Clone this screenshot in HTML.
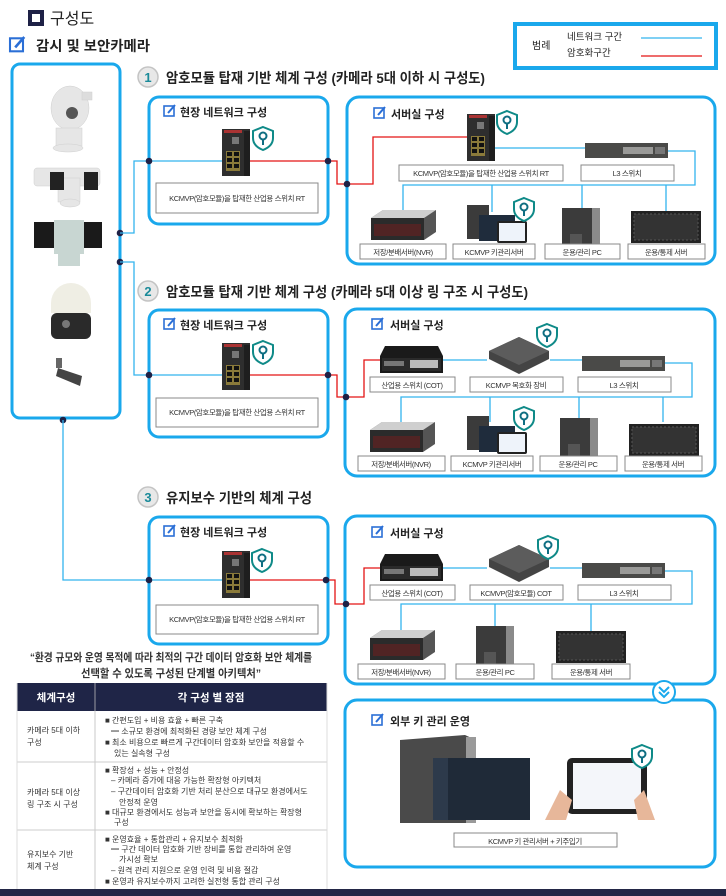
<!DOCTYPE html>
<html><head><meta charset="utf-8">
<style>
html,body{margin:0;padding:0;background:#fff;}
svg{display:block;font-family:"Liberation Sans","Noto Sans CJK KR",sans-serif;}
.h{font-weight:bold;fill:#222;}
.lb{font-size:7.5px;fill:#333;text-anchor:middle;letter-spacing:-0.4px;}
.box{fill:#fff;stroke:#888;stroke-width:1;}
.fr{fill:none;stroke:#1aa8ec;stroke-width:3;}
.bl{fill:none;stroke:#33b4ee;stroke-width:1.3;}
.rd{fill:none;stroke:#e31414;stroke-width:1.3;}
.t{font-size:8px;fill:#333;}
</style></head><body>
<svg width="726" height="896" viewBox="0 0 726 896" xmlns="http://www.w3.org/2000/svg">
<defs>
  <g id="shield"><path d="M10 0 L20 4 L20 11 Q20 19 10 23 Q0 19 0 11 L0 4 Z" fill="#fff" stroke="#0f8a88" stroke-width="2"/><circle cx="10" cy="9" r="3.5" fill="none" stroke="#0f6e82" stroke-width="2"/><rect x="9" y="12" width="2" height="6" fill="#0f6e82"/></g>
  <g id="sw"><rect x="0" y="0" width="28" height="47" fill="#2e2e2e"/><rect x="22" y="2" width="6" height="45" fill="#1e1e1e"/><rect x="2" y="1" width="18" height="3" fill="#a33"/><rect x="10" y="8" width="7" height="7" fill="#777"/><rect x="4" y="22" width="14" height="20" fill="#8a7a3a"/><rect x="5" y="23" width="5" height="4" fill="#111"/><rect x="12" y="23" width="5" height="4" fill="#111"/><rect x="5" y="29" width="5" height="4" fill="#111"/><rect x="12" y="29" width="5" height="4" fill="#111"/><rect x="5" y="35" width="5" height="4" fill="#111"/><rect x="12" y="35" width="5" height="4" fill="#111"/></g>
  <g id="l3"><rect x="0" y="0" width="83" height="15" fill="#4a4a48"/><rect x="38" y="4" width="30" height="7" fill="#9a9a98"/><rect x="70" y="4" width="10" height="7" fill="#777"/></g>
  <g id="nvr"><path d="M0 8 L12 0 L65 0 L65 22 L53 30 L0 30 Z" fill="#555"/><path d="M0 8 L12 0 L65 0 L53 8 Z" fill="#cfcfcf"/><rect x="0" y="8" width="53" height="22" fill="#2b2b2b"/><rect x="3" y="14" width="47" height="12" fill="#6a2020" opacity="0.6"/></g>
  <g id="pc"><rect x="0" y="0" width="38" height="48" fill="#3b3b3b"/><rect x="30" y="0" width="8" height="48" fill="#8a8a8a"/><rect x="8" y="26" width="12" height="12" fill="#555"/></g>
  <g id="rack"><rect x="0" y="0" width="70" height="32" fill="#222"/><rect x="3" y="3" width="64" height="26" fill="#333" stroke="#555" stroke-dasharray="2 2"/></g>
  <g id="cot"><path d="M5 0 L58 0 L63 10 L63 27 L0 27 L0 10 Z" fill="#1a1a1a"/><rect x="2" y="12" width="59" height="13" fill="#2a2a2a"/><rect x="30" y="14" width="28" height="8" fill="#bbb"/><rect x="4" y="15" width="20" height="5" fill="#777"/></g>
  <g id="dec"><path d="M0 14 L30 0 L60 14 L60 22 L30 37 L0 22 Z" fill="#444"/><path d="M0 14 L30 0 L60 14 L30 28 Z" fill="#5c5c5c"/></g>
  <g id="kms"><rect x="0" y="0" width="22" height="34" fill="#3b3b3b"/><rect x="12" y="10" width="36" height="26" fill="#1f2c3c"/><rect x="30" y="16" width="30" height="22" rx="2" fill="#222"/><rect x="32" y="18" width="26" height="18" fill="#eef3fa"/></g>
  <g id="ico"><rect x="0" y="1" width="10" height="10" fill="none" stroke="#2b6fd6" stroke-width="1.6"/><path d="M4 8 L11 0" stroke="#2b6fd6" stroke-width="2"/></g>
  <g id="dot"><circle r="3.3" fill="#1e2146"/></g>
</defs>

<rect x="28" y="10" width="16" height="16" fill="#1e2146"/><rect x="32" y="14" width="8" height="8" fill="#fff"/>
<text x="50" y="24" font-size="16" fill="#222">구성도</text>
<g transform="translate(10,37) scale(1.3)"><use href="#ico"/></g>
<text x="36" y="51" font-size="14" class="h" textLength="114" lengthAdjust="spacingAndGlyphs">감시 및 보안카메라</text>

<rect x="515" y="24" width="201" height="44" fill="#fff" stroke="#1aa8ec" stroke-width="4"/>
<text x="532" y="49" font-size="10" fill="#222">범례</text>
<text x="567" y="40" font-size="9.5" fill="#222">네트워크 구간</text>
<text x="567" y="56" font-size="9.5" fill="#222">암호화구간</text>
<line x1="641" y1="38" x2="702" y2="38" stroke="#33b4ee" stroke-width="1.2"/>
<line x1="641" y1="56" x2="702" y2="56" stroke="#e31414" stroke-width="1.2"/>

<rect x="12" y="64" width="108" height="354" rx="8" class="fr"/>
<g fill="#e6e6e6" stroke="#cfcfcf" stroke-width="0.5">
  <ellipse cx="70" cy="108" rx="19" ry="22"/><rect x="56" y="128" width="26" height="18"/><ellipse cx="68" cy="148" rx="15" ry="4"/>
  <rect x="82" y="92" width="10" height="8" fill="#ddd"/>
  <rect x="34" y="168" width="66" height="18" rx="3"/><rect x="58" y="178" width="22" height="24"/><ellipse cx="70" cy="203" rx="10" ry="4"/>
</g>
<circle cx="72" cy="113" r="6" fill="#555"/>
<rect x="50" y="172" width="14" height="18" fill="#222"/><rect x="84" y="172" width="14" height="18" fill="#222"/>
<rect x="34" y="222" width="22" height="26" fill="#1a1a1a"/><rect x="82" y="222" width="20" height="26" fill="#1a1a1a"/>
<rect x="54" y="220" width="30" height="34" fill="#c8d6d2"/><rect x="58" y="254" width="22" height="12" fill="#c8d6d2"/>
<ellipse cx="71" cy="303" rx="20" ry="20" fill="#efeee4"/><rect x="51" y="303" width="40" height="10" fill="#efeee4"/>
<rect x="51" y="313" width="40" height="26" rx="6" fill="#2a2a2a"/><circle cx="66" cy="324" r="4" fill="#777"/>
<rect x="56" y="358" width="6" height="10" fill="#666"/><path d="M58 368 L82 376 L80 386 L56 376 Z" fill="#444"/>

<use href="#dot" x="120" y="233"/><use href="#dot" x="120" y="262"/><use href="#dot" x="63" y="420"/>
<path d="M120 233 H134 V161 H149" class="bl"/>
<path d="M120 262 H134 V375 H149" class="bl"/>
<path d="M63 420 V580 H149" class="bl"/>

<!-- SECTION 1 -->
<circle cx="148" cy="77" r="10" fill="#e8e8e8" stroke="#c4c4c4" stroke-width="1.5"/>
<text x="148" y="82" font-size="13" fill="#1a8a99" text-anchor="middle" font-weight="bold">1</text>
<text x="166" y="83" font-size="14" class="h" textLength="319" lengthAdjust="spacingAndGlyphs">암호모듈 탑재 기반 체계 구성 (카메라 5대 이하 시 구성도)</text>

<rect x="149" y="97" width="179" height="127" rx="10" class="fr"/>
<use href="#ico" x="164" y="105"/>
<text x="180" y="116" font-size="11" class="h">현장 네트워크 구성</text>
<path d="M149 161 H222" class="bl"/><path d="M250 161 H328 H337 V184 H347" class="rd"/>
<use href="#sw" x="222" y="129"/><use href="#shield" x="253" y="127"/>
<rect x="156" y="183" width="162" height="30" class="box"/>
<text x="237" y="201" class="lb">KCMVP(암호모듈)을 탑재한 산업용 스위치 RT</text>
<use href="#dot" x="149" y="161"/><use href="#dot" x="328" y="161"/>

<rect x="347" y="97" width="368" height="167" rx="12" class="fr"/>
<use href="#ico" x="374" y="107"/>
<text x="391" y="118" font-size="11" class="h">서버실 구성</text>
<path d="M467 137 H373 V184 H347" class="rd"/>
<path d="M494 148 H585" class="bl"/>
<path d="M668 151 H695 V185 H403 V212 M492 185 V212 M582 185 V212 M666 185 V212" class="bl"/>
<use href="#sw" x="467" y="114"/><use href="#shield" x="497" y="111"/>
<use href="#l3" x="585" y="143"/>
<rect x="399" y="165" width="164" height="16" class="box"/><text x="481" y="176" class="lb">KCMVP(암호모듈)을 탑재한 산업용 스위치 RT</text>
<rect x="581" y="165" width="93" height="16" class="box"/><text x="627" y="176" class="lb">L3 스위치</text>
<use href="#nvr" x="371" y="210"/><use href="#kms" x="467" y="205"/><use href="#shield" x="514" y="198"/>
<use href="#pc" x="562" y="208"/><use href="#rack" x="631" y="211"/>
<rect x="360" y="244" width="86" height="15" class="box"/><text x="403" y="255" class="lb">저장/분배서버(NVR)</text>
<rect x="453" y="244" width="82" height="15" class="box"/><text x="494" y="255" class="lb">KCMVP 키관리서버</text>
<rect x="545" y="244" width="75" height="15" class="box"/><text x="582" y="255" class="lb">운용/관리 PC</text>
<rect x="628" y="244" width="77" height="15" class="box"/><text x="666" y="255" class="lb">운용/통제 서버</text>
<use href="#dot" x="347" y="184"/>

<!-- SECTION 2 -->
<circle cx="148" cy="291" r="10" fill="#e8e8e8" stroke="#c4c4c4" stroke-width="1.5"/>
<text x="148" y="296" font-size="13" fill="#1a8a99" text-anchor="middle" font-weight="bold">2</text>
<text x="166" y="297" font-size="14" class="h" textLength="362" lengthAdjust="spacingAndGlyphs">암호모듈 탑재 기반 체계 구성 (카메라 5대 이상 링 구조 시 구성도)</text>

<rect x="149" y="310" width="179" height="127" rx="10" class="fr"/>
<use href="#ico" x="164" y="318"/>
<text x="180" y="329" font-size="11" class="h">현장 네트워크 구성</text>
<path d="M149 375 H222" class="bl"/><path d="M250 375 H337 V397 H346" class="rd"/>
<use href="#sw" x="222" y="343"/><use href="#shield" x="253" y="341"/>
<rect x="156" y="398" width="162" height="29" class="box"/>
<text x="237" y="415" class="lb">KCMVP(암호모듈)을 탑재한 산업용 스위치 RT</text>
<use href="#dot" x="149" y="375"/><use href="#dot" x="328" y="375"/>

<rect x="345" y="309" width="370" height="167" rx="12" class="fr"/>
<use href="#ico" x="372" y="318"/>
<text x="390" y="329" font-size="11" class="h">서버실 구성</text>
<path d="M380 360 H364 V397 H346" class="rd"/>
<path d="M443 360 H487 M550 360 H582" class="bl"/>
<path d="M665 363 H692 V397 H401 V422 M490 397 V422 M579 397 V422 M663 397 V422" class="bl"/>
<use href="#cot" x="380" y="346"/><use href="#dec" x="489" y="337"/><use href="#shield" x="537" y="324"/><use href="#l3" x="582" y="356"/>
<rect x="370" y="377" width="85" height="15" class="box"/><text x="412" y="388" class="lb">산업용 스위치 (COT)</text>
<rect x="470" y="377" width="93" height="15" class="box"/><text x="516" y="388" class="lb">KCMVP 복호화 장비</text>
<rect x="578" y="377" width="93" height="15" class="box"/><text x="624" y="388" class="lb">L3 스위치</text>
<use href="#nvr" x="370" y="422"/><use href="#kms" x="467" y="416"/><use href="#shield" x="514" y="407"/>
<use href="#pc" x="560" y="418"/><use href="#rack" x="629" y="424"/>
<rect x="358" y="456" width="87" height="15" class="box"/><text x="401" y="467" class="lb">저장/분배서버(NVR)</text>
<rect x="451" y="456" width="82" height="15" class="box"/><text x="492" y="467" class="lb">KCMVP 키관리서버</text>
<rect x="540" y="456" width="77" height="15" class="box"/><text x="578" y="467" class="lb">운용/관리 PC</text>
<rect x="625" y="456" width="77" height="15" class="box"/><text x="663" y="467" class="lb">운용/통제 서버</text>
<use href="#dot" x="346" y="397"/>

<!-- SECTION 3 -->
<circle cx="148" cy="497" r="10" fill="#e8e8e8" stroke="#c4c4c4" stroke-width="1.5"/>
<text x="148" y="502" font-size="13" fill="#1a8a99" text-anchor="middle" font-weight="bold">3</text>
<text x="166" y="503" font-size="14" class="h" textLength="146" lengthAdjust="spacingAndGlyphs">유지보수 기반의 체계 구성</text>

<rect x="149" y="517" width="179" height="127" rx="10" class="fr"/>
<use href="#ico" x="164" y="525"/>
<text x="180" y="536" font-size="11" class="h">현장 네트워크 구성</text>
<path d="M149 580 H222" class="bl"/><path d="M250 580 H335 V604 H346" class="rd"/>
<use href="#sw" x="222" y="551"/><use href="#shield" x="252" y="549"/>
<rect x="156" y="605" width="162" height="29" class="box"/>
<text x="237" y="622" class="lb">KCMVP(암호모듈)을 탑재한 산업용 스위치 RT</text>
<use href="#dot" x="149" y="580"/><use href="#dot" x="326" y="580"/>

<rect x="345" y="516" width="370" height="168" rx="12" class="fr"/>
<use href="#ico" x="372" y="526"/>
<text x="390" y="537" font-size="11" class="h">서버실 구성</text>
<path d="M380 568 H364 V604 H346" class="rd"/>
<path d="M443 568 H487 M550 568 H582" class="bl"/>
<path d="M665 571 H692 V604 H401 V630 M495 604 V626 M591 604 V631" class="bl"/>
<use href="#cot" x="380" y="554"/><use href="#dec" x="489" y="545"/><use href="#shield" x="538" y="536"/><use href="#l3" x="582" y="563"/>
<rect x="370" y="585" width="85" height="15" class="box"/><text x="412" y="596" class="lb">산업용 스위치 (COT)</text>
<rect x="470" y="585" width="93" height="15" class="box"/><text x="516" y="596" class="lb">KCMVP(암호모듈) COT</text>
<rect x="578" y="585" width="93" height="15" class="box"/><text x="624" y="596" class="lb">L3 스위치</text>
<use href="#nvr" x="370" y="630"/><use href="#pc" x="476" y="626"/><use href="#rack" x="556" y="631"/>
<rect x="358" y="664" width="87" height="15" class="box"/><text x="401" y="675" class="lb">저장/분배서버(NVR)</text>
<rect x="456" y="664" width="78" height="15" class="box"/><text x="495" y="675" class="lb">운용/관리 PC</text>
<rect x="552" y="664" width="78" height="15" class="box"/><text x="591" y="675" class="lb">운용/통제 서버</text>
<use href="#dot" x="346" y="604"/>

<!-- external key box -->
<rect x="345" y="700" width="370" height="167" rx="12" class="fr"/>
<circle cx="664" cy="692" r="11" fill="#fff" stroke="#1aa8ec" stroke-width="2"/>
<path d="M659 687 L664 692 L669 687 M659 692 L664 697 L669 692" fill="none" stroke="#1aa8ec" stroke-width="2"/>
<use href="#ico" x="372" y="714"/>
<text x="390" y="725" font-size="11" class="h">외부 키 관리 운영</text>
<path d="M400 740 L465 735 L476 740 L476 823 L400 823 Z" fill="#4a4a4a"/><rect x="466" y="737" width="10" height="86" fill="#9a9a9a"/>
<rect x="433" y="758" width="97" height="62" fill="#1f2a38"/><rect x="433" y="758" width="15" height="62" fill="#2d3a4b"/>
<rect x="567" y="758" width="80" height="56" rx="5" fill="#222"/><rect x="573" y="763" width="68" height="46" fill="#f4f6fa"/>
<path d="M545 820 L560 790 L572 800 L566 820 Z M655 820 L644 790 L634 800 L638 820 Z" fill="#e7b79a"/>
<use href="#shield" x="632" y="745"/>
<rect x="454" y="833" width="163" height="14" class="box"/><text x="535" y="844" class="lb">KCMVP 키 관리서버 + 키주입기</text>

<!-- quote & table -->
<text x="171" y="661" font-size="11" fill="#333" text-anchor="middle" font-weight="bold" textLength="282" lengthAdjust="spacingAndGlyphs">“환경 규모와 운영 목적에 따라 최적의 구간 데이터 암호화 보안 체계를</text>
<text x="171" y="677" font-size="11" fill="#333" text-anchor="middle" font-weight="bold" textLength="180" lengthAdjust="spacingAndGlyphs">선택할 수 있도록 구성된 단계별 아키텍처”</text>
<rect x="17" y="683" width="310" height="28" fill="#1f2547"/>
<line x1="95" y1="683" x2="95" y2="890" stroke="#bbb" stroke-width="0.8"/>
<text x="56" y="701" font-size="10.5" fill="#fff" text-anchor="middle" font-weight="bold">체계구성</text>
<text x="211" y="701" font-size="10.5" fill="#fff" text-anchor="middle" font-weight="bold">각 구성 별 장점</text>
<line x1="17" y1="762" x2="327" y2="762" stroke="#ccc"/>
<line x1="17" y1="830" x2="327" y2="830" stroke="#ccc"/>
<line x1="17" y1="683" x2="17" y2="890" stroke="#ddd"/><line x1="327" y1="683" x2="327" y2="890" stroke="#ddd"/>
<g class="t">
<text x="27" y="733">카메라 5대 이하</text><text x="27" y="745">구성</text>
<text x="105" y="723">■  간편도입 + 비용 효율 + 빠른 구축</text>
<text x="111" y="734">━ 소규모 환경에 최적화된 경량 보안 체계 구성</text>
<text x="105" y="745">■  최소 비용으로 빠르게 구간데이터 암호화 보안을 적용할 수</text>
<text x="114" y="756">있는 실속형 구성</text>
<text x="27" y="795">카메라 5대 이상</text><text x="27" y="807">링 구조 시 구성</text>
<text x="105" y="773">■  확장성 + 성능 + 안정성</text>
<text x="111" y="783">– 카메라 증가에 대응 가능한 확장형 아키텍처</text>
<text x="111" y="794">– 구간데이터 암호화 기반 처리 분산으로 대규모 환경에서도</text>
<text x="119" y="805">안정적 운영</text>
<text x="105" y="815">■  대규모 환경에서도 성능과 보안을 동시에 확보하는 확장형</text>
<text x="114" y="825">구성</text>
<text x="27" y="857">유지보수 기반</text><text x="27" y="869">체계 구성</text>
<text x="105" y="842">■  운영효율 + 통합관리 + 유지보수 최적화</text>
<text x="111" y="852">━ 구간 데이터 암호화 기반 장비를 통합 관리하여 운영</text>
<text x="119" y="862">가시성 확보</text>
<text x="111" y="873">– 원격 관리 지원으로 운영 인력 및 비용 절감</text>
<text x="105" y="884">■  운영과 유지보수까지 고려한 실전형 통합 관리 구성</text>
</g>
<rect x="0" y="889" width="726" height="7" fill="#232746"/>
</svg>
</body></html>
